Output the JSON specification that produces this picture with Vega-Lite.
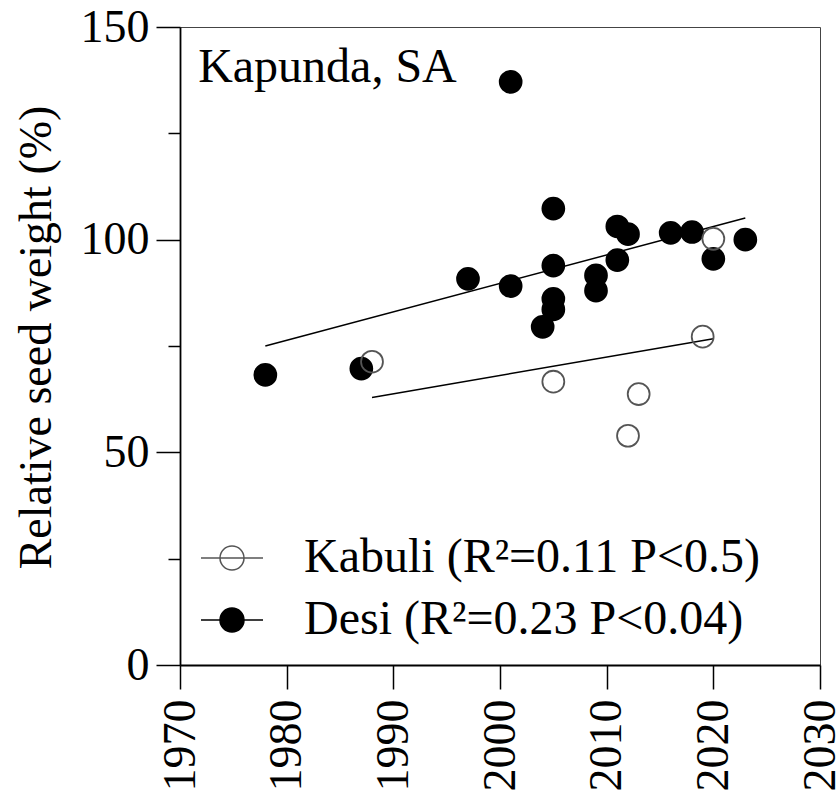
{
  "$schema": "https://vega.github.io/schema/vega-lite/v6.json",
  "width": 640,
  "height": 638,
  "autosize": {"type": "none"},
  "padding": {"left": 180, "top": 27, "right": 16, "bottom": 134},
  "config": {
    "font": "Liberation Serif",
    "view": {"stroke": "#444", "strokeWidth": 1},
    "axis": {
      "grid": false,
      "domainColor": "black",
      "domainWidth": 1.8,
      "tickColor": "black",
      "tickWidth": 1.5,
      "labelColor": "black",
      "titleColor": "black",
      "labelFont": "Liberation Serif",
      "titleFont": "Liberation Serif",
      "labelFontSize": 46,
      "titleFontSize": 46,
      "titleFontWeight": "normal",
      "labelFlush": false,
      "labelOverlap": false,
      "labelBound": false
    }
  },
  "datasets": {
    "seed": [
      {"type": "Desi", "year": 1978, "weight": 68.2},
      {"type": "Desi", "year": 1987, "weight": 69.7},
      {"type": "Desi", "year": 1997, "weight": 90.8},
      {"type": "Desi", "year": 2001, "weight": 89.1},
      {"type": "Desi", "year": 2001, "weight": 137.1},
      {"type": "Desi", "year": 2004, "weight": 79.5},
      {"type": "Desi", "year": 2005, "weight": 107.3},
      {"type": "Desi", "year": 2005, "weight": 93.9},
      {"type": "Desi", "year": 2005, "weight": 86.1},
      {"type": "Desi", "year": 2005, "weight": 83.6},
      {"type": "Desi", "year": 2009, "weight": 91.6},
      {"type": "Desi", "year": 2009, "weight": 88.0},
      {"type": "Desi", "year": 2011, "weight": 95.2},
      {"type": "Desi", "year": 2011, "weight": 103.1},
      {"type": "Desi", "year": 2012, "weight": 101.3},
      {"type": "Desi", "year": 2016, "weight": 101.6},
      {"type": "Desi", "year": 2018, "weight": 101.8},
      {"type": "Desi", "year": 2020, "weight": 95.5},
      {"type": "Desi", "year": 2023, "weight": 100.0},
      {"type": "Kabuli", "year": 1988, "weight": 71.3},
      {"type": "Kabuli", "year": 2005, "weight": 66.6},
      {"type": "Kabuli", "year": 2012, "weight": 53.9},
      {"type": "Kabuli", "year": 2013, "weight": 63.7},
      {"type": "Kabuli", "year": 2019, "weight": 77.2},
      {"type": "Kabuli", "year": 2020, "weight": 100.2}
    ],
    "fits": [
      {"type": "Desi", "year": 1978, "weight": 75.0},
      {"type": "Desi", "year": 2023, "weight": 105.1},
      {"type": "Kabuli", "year": 1988, "weight": 62.9},
      {"type": "Kabuli", "year": 2020, "weight": 76.7}
    ],
    "site": [
      {"label": "Kapunda, SA"}
    ]
  },
  "layer": [
    {
      "data": {"name": "fits"},
      "mark": {"type": "line", "color": "black", "strokeWidth": 1.5},
      "encoding": {
        "x": {
          "field": "year",
          "type": "quantitative",
          "scale": {"domain": [1970, 2030], "nice": false, "zero": false},
          "axis": {
            "title": null,
            "values": [1970, 1980, 1990, 2000, 2010, 2020, 2030],
            "format": "d",
            "tickSize": 24,
            "labelAngle": -90,
            "labelPadding": 10
          }
        },
        "y": {
          "field": "weight",
          "type": "quantitative",
          "scale": {"domain": [0, 150], "nice": false},
          "axis": {
            "title": "Relative seed weight (%)",
            "values": [0, 25, 50, 75, 100, 125, 150],
            "labelExpr": "datum.value % 50 === 0 ? datum.label : ''",
            "tickSize": {"condition": {"test": "datum.value % 50 === 0", "value": 24}, "value": 12},
            "labelPadding": 7,
            "titleX": -130,
            "titleY": 310,
            "titleAngle": -90,
            "titleAlign": "center",
            "titleBaseline": "alphabetic"
          }
        },
        "detail": {"field": "type"}
      }
    },
    {
      "data": {"name": "seed"},
      "mark": {"type": "point", "size": 480, "strokeWidth": 1.8, "opacity": 1},
      "encoding": {
        "x": {"field": "year", "type": "quantitative"},
        "y": {"field": "weight", "type": "quantitative"},
        "fill": {
          "field": "type",
          "type": "nominal",
          "scale": {"domain": ["Kabuli", "Desi"], "range": ["transparent", "black"]},
          "legend": {
            "orient": "none",
            "legendX": 20,
            "legendY": 499,
            "title": null,
            "padding": 0,
            "rowPadding": 6,
            "symbolType": "M-1,0H1M0.387,0A0.387,0.387,0,1,1,-0.387,0A0.387,0.387,0,1,1,0.387,0Z",
            "symbolSize": 3844,
            "symbolStrokeWidth": 1.5,
            "labelFont": "Liberation Serif",
            "labelFontSize": 48,
            "labelColor": "black",
            "labelOffset": 40,
            "labelLimit": 0,
            "labelExpr": "datum.value === 'Kabuli' ? 'Kabuli (R²=0.11 P<0.5)' : 'Desi (R²=0.23 P<0.04)'"
          }
        },
        "stroke": {
          "field": "type",
          "type": "nominal",
          "scale": {"domain": ["Kabuli", "Desi"], "range": ["#555555", "black"]},
          "legend": {
            "orient": "none",
            "legendX": 20,
            "legendY": 499,
            "title": null,
            "padding": 0,
            "rowPadding": 6,
            "symbolType": "M-1,0H1M0.387,0A0.387,0.387,0,1,1,-0.387,0A0.387,0.387,0,1,1,0.387,0Z",
            "symbolSize": 3844,
            "symbolStrokeWidth": 1.5,
            "labelFont": "Liberation Serif",
            "labelFontSize": 48,
            "labelColor": "black",
            "labelOffset": 40,
            "labelLimit": 0,
            "labelExpr": "datum.value === 'Kabuli' ? 'Kabuli (R²=0.11 P<0.5)' : 'Desi (R²=0.23 P<0.04)'"
          }
        }
      }
    },
    {
      "data": {"name": "site"},
      "mark": {"type": "text", "align": "left", "baseline": "alphabetic", "fontSize": 48, "font": "Liberation Serif", "color": "black"},
      "encoding": {
        "x": {"datum": 1971.7, "type": "quantitative"},
        "y": {"datum": 137.1, "type": "quantitative"},
        "text": {"field": "label"}
      }
    }
  ]
}
